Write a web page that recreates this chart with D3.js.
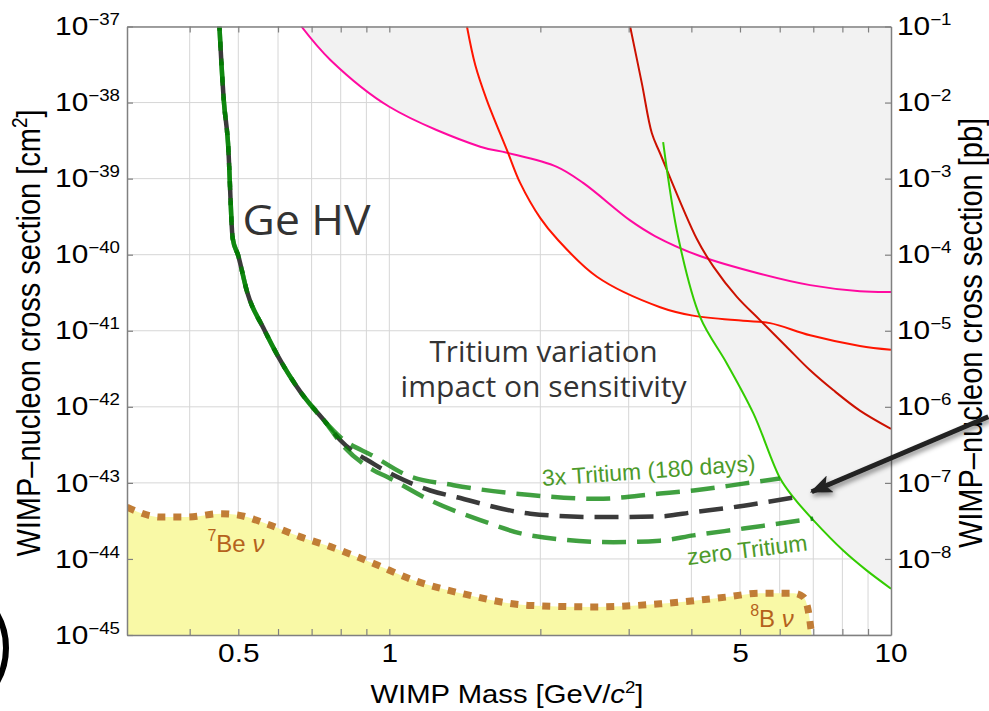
<!DOCTYPE html>
<html>
<head>
<meta charset="utf-8">
<script src="https://cdn.jsdelivr.net/npm/d3@7"></script>
<style>
  body { margin: 0; background: #fff; }
  svg { display: block; }
</style>
</head>
<body>
<script>
// Data ---------------------------------------------------------------------------------------
var massTicks = [0.5, 1, 5, 10];
var massGrid = [0.4, 0.5, 0.6, 0.7, 0.8, 0.9, 1, 2, 3, 4, 5, 6, 7, 8, 9];
var sigmaTicks = [1e-37, 1e-38, 1e-39, 1e-40, 1e-41, 1e-42, 1e-43, 1e-44, 1e-45];
var pbTicks = [1e-1, 1e-2, 1e-3, 1e-4, 1e-5, 1e-6, 1e-7, 1e-8];

// existing limits [mass GeV, sigma cm^2]
var pinkLimit = [[0.668, 1.0e-37], [0.763, 3.63e-38], [1.0, 8.81e-39], [1.518, 2.63e-39],
  [1.716, 2.19e-39], [2.158, 1.43e-39], [2.438, 8.71e-40], [3.02, 2.82e-40], [3.384, 1.76e-40],
  [4.16, 9.61e-41], [5.48, 5.62e-41], [6.90, 3.98e-41], [8.67, 3.31e-41], [10, 3.24e-41]];
var redLimit = [[1.428, 1.0e-37], [1.484, 3.09e-38], [1.565, 1.07e-38], [1.716, 2.37e-39],
  [1.824, 8.71e-40], [2.0, 3.02e-40], [2.158, 1.62e-40], [2.593, 5.13e-41], [3.466, 2.04e-41],
  [4.03, 1.58e-41], [5.07, 1.35e-41], [5.74, 1.26e-41], [6.90, 8.71e-42], [8.67, 6.31e-42],
  [10, 5.62e-42]];
var darkRedLimit = [[3.02, 1.0e-37], [3.187, 1.79e-38], [3.337, 3.94e-39], [3.466, 2.14e-39],
  [4.10, 1.62e-40], [4.43, 6.92e-41], [4.93, 2.79e-41], [5.48, 1.38e-41], [6.19, 6.17e-42],
  [6.90, 3.02e-42], [7.67, 1.66e-42], [8.67, 8.91e-43], [10, 5.13e-43]];
var greenLimit = [[3.514, 3.02e-39], [3.771, 1.62e-40], [4.165, 1.51e-41], [4.707, 3.72e-42],
  [5.32, 8.13e-43], [6.01, 1.15e-43], [6.39, 6.46e-44], [7.0, 3.24e-44], [8.03, 1.29e-44],
  [8.94, 7.08e-45], [10, 4.07e-45]];

// Ge HV projected sensitivity
var geShared = [[0.4585, 1.0e-37], [0.4677, 1.08e-38], [0.477, 2.90e-39], [0.4874, 1.63e-40],
  [0.4995, 9.84e-41], [0.5206, 3.24e-41], [0.5617, 1.07e-41], [0.6065, 4.07e-42],
  [0.665, 1.57e-42], [0.7457, 6.31e-43]];
var geNominal = [[0.7989, 3.63e-43], [0.9305, 1.78e-43], [1.036, 1.20e-43], [1.207, 7.94e-44],
  [1.364, 6.46e-44], [1.91, 3.94e-44], [2.593, 3.55e-44], [3.466, 3.63e-44], [4.04, 4.12e-44],
  [4.85, 4.79e-44], [5.66, 5.62e-44], [6.45, 6.46e-44]];
var geTritium3x = [[0.7989, 3.98e-43], [0.9305, 2.24e-43], [1.085, 1.26e-43], [1.343, 9.33e-44],
  [1.91, 6.92e-44], [2.593, 6.17e-44], [3.466, 7.24e-44], [4.04, 7.94e-44], [5.08, 9.77e-44],
  [6.0, 1.14e-43]];
var geTritiumZero = [[0.7989, 3.39e-43], [0.9305, 1.46e-43], [0.989, 1.20e-43], [1.207, 5.89e-44],
  [1.518, 3.24e-44], [1.91, 2.04e-44], [2.797, 1.66e-44], [3.466, 1.74e-44], [4.04, 2.04e-44],
  [5.08, 2.51e-44], [7.0, 3.39e-44]];

// neutrino floor
var neutrinoFloor = [[0.30, 4.79e-44], [0.35, 3.55e-44], [0.3955, 3.55e-44], [0.4606, 3.94e-44],
  [0.497, 3.80e-44], [0.5705, 2.88e-44], [0.665, 1.95e-44], [0.763, 1.45e-44], [0.9305, 8.71e-45],
  [1.118, 5.25e-45], [1.406, 3.47e-45], [1.91, 2.45e-45], [2.593, 2.34e-45], [3.466, 2.57e-45],
  [4.707, 3.16e-45], [5.48, 3.55e-45], [6.39, 3.55e-45], [6.69, 3.16e-45], [6.84, 2.09e-45],
  [6.95, 1.0e-45]];

//Setup----------------------------------------------------------------------------------------
var width = 989, height = 711;
var plotL = 127, plotR = 891, plotT = 26.5, plotB = 635;
var sx = 1.17; // glyphs in the picture are a bit wider than they are tall
var tickFont = "'Liberation Sans', Helvetica, Arial, sans-serif";
var noteFont = "'Open Sans', 'Noto Sans', sans-serif";

var svg = d3.select("body").append("svg")
  .attr("width", width)
  .attr("height", height);

var defs = svg.append("defs");
defs.append("clipPath").attr("id", "plotClip")
  .append("rect")
  .attr("x", plotL).attr("y", plotT)
  .attr("width", plotR - plotL).attr("height", plotB - plotT);

defs.append("filter").attr("id", "shadow")
  .attr("x", "-20%").attr("y", "-50%").attr("width", "140%").attr("height", "200%")
  .append("feDropShadow")
  .attr("dx", 2).attr("dy", 3).attr("stdDeviation", 2.5)
  .attr("flood-color", "#000").attr("flood-opacity", 0.45);

defs.append("marker").attr("id", "head")
  .attr("viewBox", "0 0 22 18")
  .attr("refX", 20).attr("refY", 9)
  .attr("markerWidth", 22).attr("markerHeight", 18)
  .attr("markerUnits", "userSpaceOnUse")
  .attr("orient", "auto")
  .append("path")
  .attr("d", "M0,0 L22,9 L0,18 L5,9 Z")
  .attr("fill", "#222");

var x = d3.scaleLog().domain([0.3, 10]).range([plotL, plotR]);
var y = d3.scaleLog().domain([1e-45, 1e-37]).range([plotB, plotT]);
var yPb = d3.scaleLog().domain([1e-9, 1e-1]).range([plotB, plotT]);

var plot = svg.append("g").attr("clip-path", "url(#plotClip)");

//Grid-----------------------------------------------------------------------------------------
plot.selectAll(".vgrid")
  .data(massGrid)
  .enter().append("line")
  .attr("x1", function(d) { return x(d); })
  .attr("x2", function(d) { return x(d); })
  .attr("y1", plotT).attr("y2", plotB)
  .style("stroke", "#d6d6d6").style("stroke-width", 1);

plot.selectAll(".hgrid")
  .data(sigmaTicks)
  .enter().append("line")
  .attr("x1", plotL).attr("x2", plotR)
  .attr("y1", function(d) { return y(d); })
  .attr("y2", function(d) { return y(d); })
  .style("stroke", "#d6d6d6").style("stroke-width", 1);

//Excluded region + limits--------------------------------------------------------------------
var smooth = d3.curveCatmullRom.alpha(0.5);

var above = d3.area()
  .curve(smooth)
  .x(function(d) { return x(d[0]); })
  .y0(plotT - 5)
  .y1(function(d) { return y(d[1]); });

var below = d3.area()
  .curve(d3.curveMonotoneX)
  .x(function(d) { return x(d[0]); })
  .y0(plotB + 5)
  .y1(function(d) { return y(d[1]); });

var limitLine = d3.line()
  .curve(smooth)
  .x(function(d) { return x(d[0]); })
  .y(function(d) { return y(d[1]); });

var line = d3.line()
  .curve(d3.curveMonotoneX)
  .x(function(d) { return x(d[0]); })
  .y(function(d) { return y(d[1]); });

[pinkLimit, redLimit, darkRedLimit, greenLimit].forEach(function(c) {
  plot.append("path").attr("d", above(c)).style("fill", "#f2f2f2");
});

plot.append("path").attr("d", below(neutrinoFloor)).style("fill", "#f9f9a6");

var limits = [
  { data: pinkLimit, color: "#ff0aa0" },
  { data: redLimit, color: "#ff1500" },
  { data: darkRedLimit, color: "#cc1100" },
  { data: greenLimit, color: "#33cc00" }
];
limits.forEach(function(l) {
  plot.append("path")
    .attr("d", limitLine(l.data))
    .style("fill", "none")
    .style("stroke", l.color)
    .style("stroke-width", 2);
});

//Ge HV curves---------------------------------------------------------------------------------
plot.append("path")
  .attr("d", line(geShared.concat(geNominal)))
  .style("fill", "none").style("stroke", "#3a3a3a")
  .style("stroke-width", 4.5)
  .style("stroke-dasharray", "24,11")
  .style("stroke-dashoffset", 20);

[[geTritium3x, 0], [geTritiumZero, 3]].forEach(function(g) {
  plot.append("path")
    .attr("d", line(geShared.concat(g[0])))
    .style("fill", "none").style("stroke", "#008000")
    .style("stroke-opacity", 0.75)
    .style("stroke-width", 4.5)
    .style("stroke-dasharray", "24,11")
    .style("stroke-dashoffset", g[1]);
});

plot.append("path")
  .attr("d", line(neutrinoFloor))
  .style("fill", "none").style("stroke", "#c17d36")
  .style("stroke-width", 7)
  .style("stroke-dasharray", "8,8");

//Frame and axes-------------------------------------------------------------------------------
function styleAxis(g) {
  g.select(".domain").style("stroke", "#808080").style("stroke-width", 1.5);
  g.selectAll(".tick line").style("stroke", "#808080").style("stroke-width", 1.2);
  g.attr("font-family", tickFont).attr("font-size", 25.5);
  g.selectAll("text").style("fill", "#000");
}

function powerLabels(g, xPos) {
  g.selectAll(".tick text").each(function(d) {
    var t = d3.select(this);
    var e = Math.round(Math.log10(d));
    t.text(null).attr("x", xPos / sx).attr("transform", "scale(" + sx + ",1)");
    t.append("tspan").text("10");
    t.append("tspan").attr("dy", -10).attr("font-size", 16).text("\u2212" + Math.abs(e));
  });
}

var gBottom = svg.append("g").attr("transform", "translate(0," + plotB + ")")
  .call(d3.axisBottom(x).tickValues(massGrid).tickSize(-6).tickSizeOuter(0)
    .tickFormat(function(d) { return massTicks.indexOf(d) >= 0 ? d : ""; }));
gBottom.selectAll(".tick text")
  .attr("y", 9)
  .attr("transform", "scale(" + sx + ",1)");
// label at the right edge (10)
gBottom.append("g").attr("transform", "translate(" + x(10) + ",0)")
  .append("text").attr("y", 9).attr("dy", "0.71em")
  .attr("text-anchor", "middle").attr("transform", "scale(" + sx + ",1)")
  .text("10");
styleAxis(gBottom);

var gTop = svg.append("g").attr("transform", "translate(0," + plotT + ")")
  .call(d3.axisTop(x).tickValues(massGrid).tickSize(-6).tickSizeOuter(0).tickFormat(""));
styleAxis(gTop);

var gLeft = svg.append("g").attr("transform", "translate(" + plotL + ",0)")
  .call(d3.axisLeft(y).tickValues(sigmaTicks).tickSize(-6).tickSizeOuter(0));
styleAxis(gLeft);
powerLabels(gLeft, -7);

var gRight = svg.append("g").attr("transform", "translate(" + plotR + ",0)")
  .call(d3.axisRight(yPb).tickValues(pbTicks).tickSize(-6).tickSizeOuter(0));
styleAxis(gRight);
powerLabels(gRight, 6);

//Axis titles----------------------------------------------------------------------------------
var xTitle = svg.append("g")
  .attr("transform", "translate(507,703) scale(" + sx + ",1)")
  .append("text")
  .attr("text-anchor", "middle")
  .attr("font-family", tickFont).attr("font-size", 25);
xTitle.append("tspan").text("WIMP Mass [GeV/");
xTitle.append("tspan").attr("font-style", "italic").text("c");
xTitle.append("tspan").attr("dy", -10).attr("font-size", 16).text("2");
xTitle.append("tspan").attr("dy", 10).text("]");

var yTitle = svg.append("g")
  .attr("transform", "translate(40,333) scale(" + sx + ",1) rotate(-90)")
  .append("text")
  .attr("text-anchor", "middle")
  .attr("font-family", tickFont).attr("font-size", 29);
yTitle.append("tspan").text("WIMP\u2013nucleon cross section [cm");
yTitle.append("tspan").attr("dy", -11).attr("font-size", 19).text("2");
yTitle.append("tspan").attr("dy", 11).text("]");

svg.append("g")
  .attr("transform", "translate(982,333) scale(" + sx + ",1) rotate(-90)")
  .append("text")
  .attr("text-anchor", "middle")
  .attr("font-family", tickFont).attr("font-size", 29)
  .text("WIMP\u2013nucleon cross section [pb]");

//Annotations----------------------------------------------------------------------------------
svg.append("text")
  .attr("x", x(0.51)).attr("y", y(1.82e-40))
  .attr("font-family", noteFont).attr("font-size", 42)
  .attr("textLength", 128).attr("lengthAdjust", "spacingAndGlyphs")
  .style("fill", "#333").text("Ge HV");

var note = svg.append("text")
  .attr("text-anchor", "middle")
  .attr("font-family", noteFont).attr("font-size", 29)
  .style("fill", "#333");
note.append("tspan").attr("x", x(2.03)).attr("y", y(3.92e-42))
  .attr("textLength", 228).attr("lengthAdjust", "spacingAndGlyphs")
  .text("Tritium variation");
note.append("tspan").attr("x", x(2.03)).attr("y", y(1.35e-42))
  .attr("textLength", 286).attr("lengthAdjust", "spacingAndGlyphs")
  .text("impact on sensitivity");

function greenNote(m, s, angle, len, label) {
  svg.append("text")
    .attr("transform", "translate(" + x(m) + "," + y(s) + ") rotate(" + angle + ")")
    .attr("font-family", tickFont).attr("font-size", 23)
    .attr("textLength", len).attr("lengthAdjust", "spacingAndGlyphs")
    .style("fill", "#4c9a2a").text(label);
}
greenNote(2.02, 9.1e-44, -4, 214, "3x Tritium (180 days)");
greenNote(3.94, 8.3e-45, -7, 121, "zero Tritium");

function nuNote(m, s, iso, label) {
  var t = svg.append("text")
    .attr("x", x(m)).attr("y", y(s))
    .attr("font-family", tickFont).attr("font-size", 24)
    .style("fill", "#b5621c");
  t.append("tspan").attr("dy", -11).attr("font-size", 16).text(iso);
  t.append("tspan").attr("dy", 11).text(label + " ");
  t.append("tspan").attr("font-style", "italic").text("\u03bd");
}
nuNote(0.434, 1.24e-44, "7", "Be");
nuNote(5.24, 1.29e-45, "8", "B");

// arrow pointing at the nominal curve
var tail = [x(15.63), y(7.41e-43)];
var tip = [x(6.95), y(7.66e-44)];
svg.append("line")
  .attr("x1", tail[0]).attr("y1", tail[1])
  .attr("x2", tip[0]).attr("y2", tip[1])
  .attr("marker-end", "url(#head)")
  .attr("filter", "url(#shadow)")
  .style("stroke", "#222").style("stroke-width", 5);

// edge of a logo cut off at the left border
svg.append("circle")
  .attr("cx", -62).attr("cy", 648).attr("r", 68)
  .style("fill", "none").style("stroke", "#000").style("stroke-width", 6);
</script>
</body>
</html>
